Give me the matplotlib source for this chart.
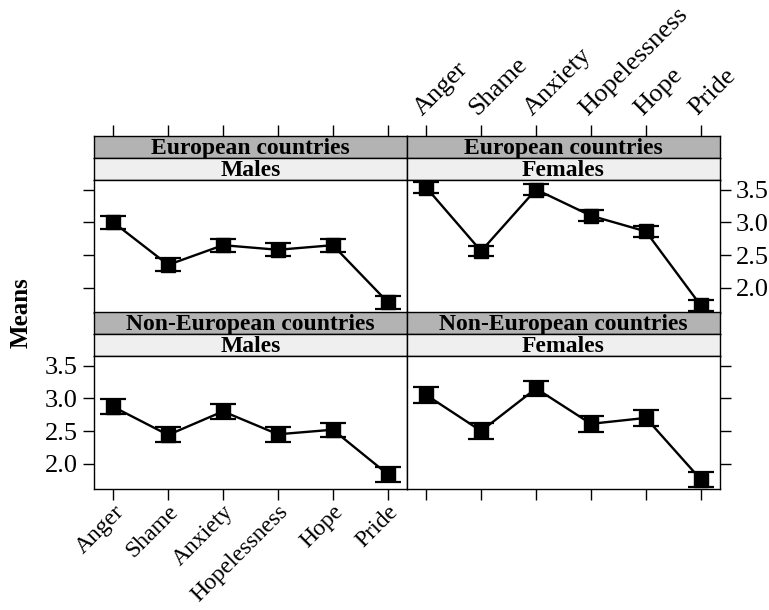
import matplotlib
matplotlib.use('Agg')
import matplotlib.pyplot as plt

plt.rcParams['font.family'] = ['Liberation Serif', 'DejaVu Serif']

# Data
emotions = ['Anger', 'Shame', 'Anxiety', 'Hopelessness', 'Hope', 'Pride']
eu_males = [3.00, 2.35, 2.65, 2.58, 2.65, 1.78]
eu_males_err = [0.10, 0.10, 0.10, 0.10, 0.10, 0.10]
eu_females = [3.53, 2.56, 3.50, 3.10, 2.86, 1.73]
eu_females_err = [0.09, 0.08, 0.08, 0.08, 0.08, 0.08]
noneu_males = [2.87, 2.44, 2.80, 2.45, 2.52, 1.84]
noneu_males_err = [0.115, 0.115, 0.115, 0.11, 0.11, 0.115]
noneu_females = [3.05, 2.50, 3.15, 2.61, 2.70, 1.76]
noneu_females_err = [0.12, 0.12, 0.11, 0.12, 0.12, 0.12]

yticks = [2.0, 2.5, 3.0, 3.5]
W, H = 769, 610


def rect(x0, y0, x1, y1):
    return [x0 / W, 1 - y1 / H, (x1 - x0) / W, (y1 - y0) / H]


fig = plt.figure(figsize=(W / 100, H / 100), dpi=100)
xpos = list(range(1, len(emotions) + 1))
xlim = (0.65, 6.35)
ylim = (1.615, 3.645)

panels = [
    # (x0, x1, y_top_of_strip, region, sex, means, errs, row, col)
    (94, 407, 136, 'European countries', 'Males', eu_males, eu_males_err, 0, 0),
    (407, 720, 136, 'European countries', 'Females', eu_females, eu_females_err, 0, 1),
    (94, 407, 312, 'Non-European countries', 'Males', noneu_males, noneu_males_err, 1, 0),
    (407, 720, 312, 'Non-European countries', 'Females', noneu_females, noneu_females_err, 1, 1),
]

for x0, x1, top, region, sex, means, errs, row, col in panels:
    # strips
    s1 = fig.add_axes(rect(x0, top, x1, top + 22))
    s2 = fig.add_axes(rect(x0, top + 22, x1, top + 44))
    for s, txt, fc in [(s1, region, '#b3b3b3'), (s2, sex, '#efefef')]:
        s.set_facecolor(fc)
        s.set_xlim(xlim)
        s.set_yticks([])
        s.set_xticks([])
        s.text(0.5, 0.42, txt, transform=s.transAxes, ha='center', va='center',
               fontsize=17, fontweight='bold')
        for sp in s.spines.values():
            sp.set_linewidth(1)
    if row == 0:
        s1.xaxis.set_ticks_position('top')
        s1.set_xticks(xpos)
        s1.tick_params(axis='x', direction='out', length=8, width=1, top=True, bottom=False)
        if col == 1:
            s1.set_xticklabels(emotions, rotation=45, ha='left', va='bottom',
                               rotation_mode='anchor', fontsize=19)
        else:
            s1.set_xticklabels([])

    ax = fig.add_axes(rect(x0, top + 44, x1, top + 44 + 133))
    ax.errorbar(xpos, means, yerr=errs, color='black', marker='s', markersize=9.5,
                linewidth=1.7, elinewidth=1.5, capsize=9.5, capthick=1.6)
    ax.set_xlim(xlim)
    ax.set_ylim(ylim)
    ax.set_yticks(yticks)
    ax.yaxis.set_major_formatter(matplotlib.ticker.FormatStrFormatter('%.1f'))
    for sp in ax.spines.values():
        sp.set_linewidth(1)
    ax.tick_params(axis='both', direction='out', length=8, width=1, labelsize=19)
    if col == 0:
        ax.tick_params(axis='y', left=True, right=False, labelleft=(row == 1))
    else:
        ax.yaxis.set_ticks_position('right')
        ax.tick_params(axis='y', left=False, right=True, labelright=(row == 0),
                       labelleft=False)
    if row == 1:
        ax.set_xticks(xpos)
        ax.tick_params(axis='x', pad=1)
        if col == 0:
            ax.set_xticklabels(emotions, rotation=45, ha='right', va='top',
                               rotation_mode='anchor', fontsize=17)
        else:
            ax.set_xticklabels([])
    else:
        ax.set_xticks([])

fig.text(0.028, 1 - 313 / H, 'Means', rotation=90, ha='center', va='center',
         fontsize=18, fontweight='bold')

fig.savefig('out.png', dpi=100)
